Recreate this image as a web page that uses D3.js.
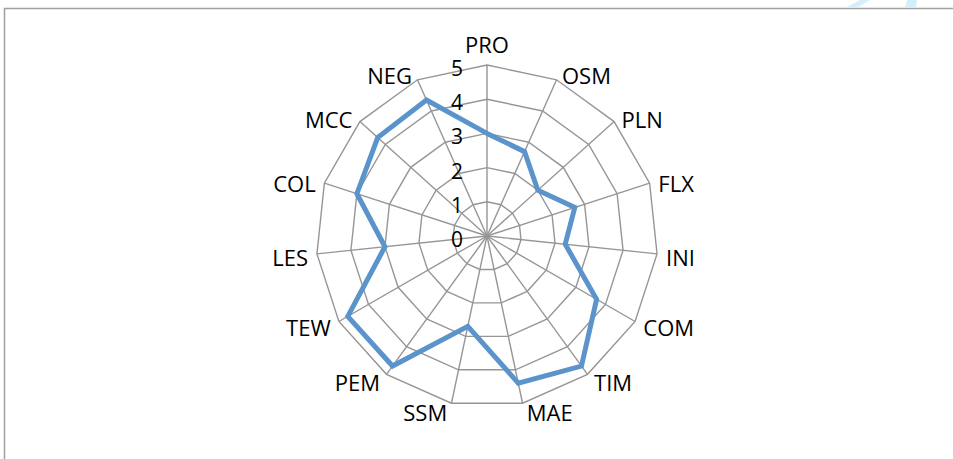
<!DOCTYPE html>
<html>
<head>
<meta charset="utf-8">
<script src="https://cdn.jsdelivr.net/npm/d3@7/dist/d3.min.js"></script>
<style>
  html, body { margin: 0; padding: 0; background: #fff; }
  svg { display: block; }
  text { font-family: "Open Sans", "Noto Sans", sans-serif; fill: #000; }
</style>
</head>
<body>
<svg id="chart" width="953" height="459"></svg>
<script>
// Competency profile: one score (0–5) per dimension, clockwise from the top
const categories = ["PRO", "OSM", "PLN", "FLX", "INI", "COM", "TIM", "MAE",
                    "SSM", "PEM", "TEW", "LES", "COL", "MCC", "NEG"];
const scores = [3.0, 2.7, 2.0, 2.7, 2.3, 3.7, 4.7, 4.4,
                2.7, 4.7, 4.7, 3.0, 4.0, 4.3, 4.35];
const ringTicks = [0, 1, 2, 3, 4, 5];

const svg = d3.select("#chart");
const cx = 487, cy = 236, R = 171;

// Chart area border (runs off the right and bottom edges)
svg.append("rect")
  .attr("x", 4.5).attr("y", 8.5)
  .attr("width", 1000).attr("height", 500)
  .attr("fill", "none").attr("stroke", "#a0a0a0").attr("stroke-width", 1.5);

// Faint blue marks above the border at the top right
svg.append("path")
  .attr("d", "M845,8 L856,8 L870,0 L860,0 Z")
  .attr("fill", "#d4eefb");
svg.append("path")
  .attr("d", "M905,8 L916,8 L917,0 L907,0 Z")
  .attr("fill", "#d4eefb");

const r = d3.scaleLinear().domain([0, 5]).range([0, R]);
const angle = d3.scalePoint().domain(categories).range([0, 2 * Math.PI * (categories.length - 1) / categories.length]);

const pt = (cat, v) => {
  const a = angle(cat);
  return [cx + r(v) * Math.sin(a), cy - r(v) * Math.cos(a)];
};

const g = svg.append("g");

// Polygon rings
ringTicks.filter(t => t > 0).forEach(t => {
  g.append("polygon")
    .attr("points", categories.map(c => pt(c, t).join(",")).join(" "))
    .attr("fill", "none").attr("stroke", "#969696").attr("stroke-width", 1.4);
});

// Spokes
categories.forEach(c => {
  const [x, y] = pt(c, 5);
  g.append("line")
    .attr("x1", cx).attr("y1", cy).attr("x2", x).attr("y2", y)
    .attr("stroke", "#969696").attr("stroke-width", 1.4);
});

// Value labels along the top spoke
ringTicks.forEach(t => {
  g.append("text")
    .attr("x", cx - 24)
    .attr("y", cy - r(t) + 11)
    .attr("text-anchor", "end")
    .attr("font-size", 21)
    .text(t);
});

// Category labels around the outside
categories.forEach(c => {
  const a = angle(c);
  const s = Math.sin(a), co = Math.cos(a);
  const [vx, vy] = pt(c, 5);
  let anchor, x, yc;
  if (Math.abs(s) < 0.05) {
    anchor = "middle";
    x = vx;
    yc = co > 0 ? vy - 20.5 : vy + 20.5;
  } else {
    anchor = s > 0 ? "start" : "end";
    x = vx + Math.sign(s) * (3 + 6 * Math.abs(s));
    yc = vy + 3 - 7 * co;
  }
  g.append("text")
    .attr("x", x).attr("y", yc + 8)
    .attr("text-anchor", anchor)
    .attr("font-size", 22)
    .text(c);
});

// Score outline
const line = d3.line().curve(d3.curveLinearClosed);
g.append("path")
  .attr("d", line(categories.map((c, i) => pt(c, scores[i]))))
  .attr("fill", "none")
  .attr("stroke", "#5b93cb")
  .attr("stroke-width", 5)
  .attr("stroke-linejoin", "miter");
</script>
</body>
</html>
